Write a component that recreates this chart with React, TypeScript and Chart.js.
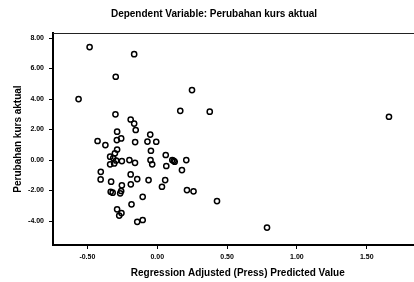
import React, { useEffect, useRef } from "react";
import { Chart, registerables } from "chart.js";

Chart.register(...registerables);

const titleText = "Dependent Variable: Perubahan kurs aktual";
const xAxisTitle = "Regression Adjusted (Press) Predicted Value";
const yAxisTitle = "Perubahan kurs aktual";

const xTickValues = [-0.5, 0, 0.5, 1.0, 1.5];
const yTickValues = [-4, -2, 0, 2, 4, 6, 8];

const predicted = [
  -0.484, -0.165, -0.297, -0.563, 0.249, 0.165, 0.376, 1.659, -0.299, -0.19,
  -0.165, -0.154, -0.287, -0.05, -0.427, -0.371, -0.289, -0.258, -0.158, -0.07,
  -0.007, -0.287, -0.045, -0.303, -0.337, -0.315, -0.294, -0.253, -0.337, -0.308,
  -0.199, -0.159, -0.048, -0.036, 0.061, 0.108, 0.125, 0.208, 0.065, 0.177,
  -0.404, -0.405, -0.33, -0.19, -0.143, -0.062, -0.189, -0.253, 0.057, 0.034,
  0.213, 0.26, 0.428, -0.333, -0.319, -0.265, -0.258, -0.104, -0.184, -0.287,
  -0.256, -0.272, -0.143, -0.104, 0.786, 0.118,
];
const actual = [
  7.41, 6.94, 5.46, 4.0, 4.59, 3.23, 3.17, 2.84, 3.0, 2.66,
  2.39, 1.97, 1.86, 1.67, 1.25, 0.98, 1.31, 1.42, 1.18, 1.21,
  1.2, 0.69, 0.61, 0.44, 0.22, 0.13, -0.03, -0.07, -0.28, -0.22,
  0.0, -0.18, 0.0, -0.28, 0.33, 0.0, -0.11, 0.0, -0.39, -0.66,
  -0.77, -1.27, -1.42, -0.94, -1.25, -1.31, -1.59, -1.66, -1.31, -1.75,
  -1.97, -2.05, -2.69, -2.08, -2.14, -2.18, -2.03, -2.41, -2.9, -3.23,
  -3.48, -3.64, -4.05, -3.93, -4.43, -0.05,
];

const xMin = -0.746;
const xMax = 1.899;
const yMin = -5.57;
const yMax = 8.33;

const FONT = "'Liberation Sans', Arial, sans-serif";

export default function App() {
  const ref = useRef<HTMLCanvasElement | null>(null);

  useEffect(() => {
    if (!ref.current) return;
    const points = predicted.map((x, i) => ({ x, y: actual[i] }));
    const topLine = {
      id: "topLine",
      afterDraw(chart: any) {
        const { ctx, chartArea } = chart;
        ctx.save();
        ctx.strokeStyle = "#222";
        ctx.lineWidth = 1;
        ctx.beginPath();
        ctx.moveTo(chartArea.left, chartArea.top + 0.5);
        ctx.lineTo(chartArea.right, chartArea.top + 0.5);
        ctx.stroke();
        ctx.restore();
      },
    };
    const chart = new Chart(ref.current, {
      type: "scatter",
      data: {
        datasets: [
          {
            data: points,
            pointRadius: 2.6,
            pointBorderWidth: 1.5,
            pointBackgroundColor: "rgba(255,255,255,0)",
            pointBorderColor: "#000",
            showLine: false,
          },
        ],
      },
      options: {
        animation: false,
        responsive: false,
        maintainAspectRatio: false,
        layout: { padding: 0 },
        plugins: {
          legend: { display: false },
          tooltip: { enabled: false },
          title: {
            display: true,
            text: titleText,
            color: "#000",
            font: { family: FONT, size: 10, weight: "bold" },
            padding: { top: 8, bottom: 13 },
          },
        },
        scales: {
          x: {
            type: "linear",
            min: xMin,
            max: xMax,
            afterBuildTicks: (s: any) => {
              s.ticks = xTickValues.map((v) => ({ value: v }));
            },
            afterFit: (s: any) => {
              s.height = 37;
              s.paddingLeft = 0;
              s.paddingRight = 0;
            },
            ticks: {
              color: "#000",
              font: { family: FONT, size: 7, weight: "bold" },
              padding: 4,
              maxRotation: 0,
              callback: (v: any) => Number(v).toFixed(2),
            },
            grid: {
              display: true,
              drawOnChartArea: false,
              drawTicks: true,
              tickLength: 4,
              color: "#000",
              lineWidth: 1,
            },
            border: { display: true, color: "#000", width: 2 },
            title: {
              display: true,
              text: xAxisTitle,
              color: "#000",
              font: { family: FONT, size: 10, weight: "bold" },
              padding: { top: 0, bottom: 3 },
            },
          },
          y: {
            type: "linear",
            min: yMin,
            max: yMax,
            afterBuildTicks: (s: any) => {
              s.ticks = yTickValues.map((v) => ({ value: v }));
            },
            afterFit: (s: any) => {
              s.width = 53;
              s.paddingTop = 0;
              s.paddingBottom = 0;
            },
            ticks: {
              color: "#000",
              font: { family: FONT, size: 7, weight: "bold" },
              padding: 5,
              callback: (v: any) => Number(v).toFixed(2),
            },
            grid: {
              display: true,
              drawOnChartArea: false,
              drawTicks: true,
              tickLength: 4,
              color: "#000",
              lineWidth: 1,
            },
            border: { display: true, color: "#000", width: 2 },
            title: {
              display: true,
              text: yAxisTitle,
              color: "#000",
              font: { family: FONT, size: 10, weight: "bold" },
              padding: { top: 12, bottom: 0 },
            },
          },
        },
      },
      plugins: [topLine],
    });
    return () => chart.destroy();
  }, []);

  return (
    <div style={{ position: "fixed", left: 0, top: 0, width: 414, height: 282, overflow: "hidden", background: "#fff" }}>
      <canvas ref={ref} width={428} height={282} style={{ width: 428, height: 282, display: "block" }} />
    </div>
  );
}
